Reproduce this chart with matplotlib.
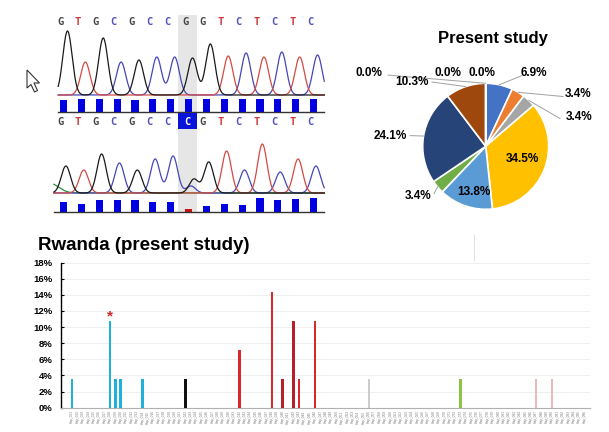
import matplotlib.pyplot as plt
import numpy as np
from matplotlib.patches import Polygon, Rectangle
from matplotlib.lines import Line2D

# ---- chromatogram data (reference on top, patient below) ----
bases_ref = list("GTGCGCCGGTCTCTC")
bases_pt = list("GTGCGCCCGTCTCTC")
peaks_ref = [64, 33, 57, 33, 35, 38, 38, 37, 51, 39, 42, 38, 43, 38, 40]
peaks_pt = [27, 23, 39, 30, 23, 34, 37, 7, 31, 42, 23, 49, 21, 34, 27]
extra_pt_base = ["G", "A"]
extra_pt_pos = [7.5, -0.6]
extra_pt_height = [14, 10]
qual_ref = [12.5, 13.5, 13, 13, 12.5, 13.5, 13.5, 13, 13, 13.5, 13.5, 13.5, 13.5, 13.5, 13.5]
qual_pt = [10, 8, 12, 12, 12, 10, 10, 3, 6, 8, 7, 14, 12, 13, 14]
snp_pos = 7

# ---- pie data ----
pie_labels = ["6.9%", "3.4%", "3.4%", "34.5%", "13.8%", "3.4%", "24.1%", "10.3%", "0.0%", "0.0%", "0.0%"]
pie_values = [6.9, 3.4, 3.4, 34.5, 13.8, 3.4, 24.1, 10.3, 0.0, 0.0, 0.0]
pie_colors = ["#4472c4", "#ed7d31", "#a5a5a5", "#ffc000", "#5b9bd5", "#70ad47",
              "#264478", "#9e480e", "#636363", "#997300", "#255e91"]

# ---- bar data (Rwanda) ----
n_cat = 96
cat_names = ["Hap_%03d" % (i + 1) for i in range(n_cat)]
bar_idx = [0, 7, 8, 9, 13, 21, 31, 37, 39, 41, 42, 45, 55, 72, 86, 89]
bar_vals = [3.6, 10.7, 3.6, 3.6, 3.6, 3.6, 7.1, 14.3, 3.6, 10.7, 3.6, 10.7, 3.6, 3.6, 3.6, 3.6]
bar_cols = ["#1fb1dc"] * 5 + ["#111111"] + ["#d8282c", "#d8282c", "#b5202a", "#b5202a", "#d8282c", "#d8282c"] \
           + ["#cccccc", "#8cc346", "#e9b9bd", "#e9b9bd"]

W, H = 609, 432
fig = plt.figure(figsize=(W / 100, H / 100), dpi=100)
plt.rcParams['font.family'] = ['Liberation Sans', 'DejaVu Sans']


def px_axes(x0, y0, x1, y1):
    return fig.add_axes([x0 / W, 1 - y1 / H, (x1 - x0) / W, (y1 - y0) / H])


chan_col = {"G": "#1a1a1a", "T": "#d44a44", "C": "#4646b8", "A": "#2b8a3e"}
letter_col = {"G": "#444444", "T": "#cc3a3a", "C": "#5050c0"}
sigma = 0.26


def draw_trace(ax, bases, peaks, offset, base_y, x_lo, extra=None):
    x = np.linspace(x_lo, 14.8, 800)
    for ch in ["A", "C", "T", "G"]:
        y = np.zeros_like(x)
        for i, (b, h) in enumerate(zip(bases, peaks)):
            if b == ch:
                y += h * np.exp(-0.5 * ((x - i - offset) / sigma) ** 2)
        if extra:
            for b, p, h in zip(*extra):
                if b == ch:
                    y += h * np.exp(-0.5 * ((x - p) / (sigma if b != "A" else 0.5)) ** 2)
        if y.max() > 0:
            ax.plot(x, base_y + y, color=chan_col[ch], lw=0.9)


def setup_chrom(ax):
    ax.set_xlim((50 - 60) / 17.86, (330 - 60) / 17.86)
    ax.set_ylim(0, 103)
    ax.axis("off")


# top panel
ax1 = px_axes(50, 12, 330, 115)
setup_chrom(ax1)
ax1.add_patch(Rectangle((snp_pos + 0.15 - 0.53, 2), 1.06, 98, color="#e6e6e6", lw=0))
draw_trace(ax1, bases_ref, peaks_ref, 0.42, 20, -0.1)
for i, b in enumerate(bases_ref):
    ax1.text(i, 93, b, color=letter_col[b], ha="center", va="center",
             fontsize=7.5, fontweight="bold", family="DejaVu Sans Mono")
ax1.bar(np.arange(15) + 0.2, qual_ref, bottom=3, width=0.4, color="#0000e0")
ax1.plot([-0.1, 14.8], [3, 3], color="#333333", lw=1)

# bottom panel
ax2 = px_axes(50, 112, 330, 215)
setup_chrom(ax2)
ax2.add_patch(Rectangle((snp_pos + 0.15 - 0.53, 2), 1.06, 84, color="#e6e6e6", lw=0))
ax2.add_patch(Rectangle((snp_pos + 0.15 - 0.53, 86), 1.06, 16, color="#0a14d8", lw=0))
draw_trace(ax2, bases_pt, peaks_pt, 0.33, 22, -0.34,
           extra=(extra_pt_base, extra_pt_pos, extra_pt_height))
for i, b in enumerate(bases_pt):
    c = "white" if i == snp_pos else letter_col[b]
    ax2.text(i + (0.15 if i == snp_pos else 0), 93, b, color=c, ha="center", va="center",
             fontsize=7.5, fontweight="bold", family="DejaVu Sans Mono")
qcols = ["#d01010" if q < 5 else "#0000e0" for q in qual_pt]
ax2.bar(np.arange(15) + 0.2, qual_pt, bottom=3, width=0.4, color=qcols)
ax2.plot([-0.34, 14.8], [3, 3], color="#333333", lw=1)

# mouse cursor
cur = [(27, 70), (27, 88), (31, 84.5), (34.5, 92), (37.5, 90.5), (34, 83), (39.5, 83)]
fig.add_artist(Polygon([(x / W, 1 - y / H) for x, y in cur], closed=True,
                       transform=fig.transFigure, facecolor="white", edgecolor="#333333", lw=0.8))

# ---- pie ----
cx, cy, r = 485.7, 146.3, 63
axp = px_axes(360, 20, 610, 225)
axp.pie(pie_values, colors=pie_colors, startangle=90, counterclock=False,
        wedgeprops=dict(edgecolor="white", linewidth=1.2))
axp.set_aspect("auto")
axp.set_xlim((360 - cx) / r, (610 - cx) / r)
axp.set_ylim((cy - 225) / r, (cy - 20) / r)
axp.text((493 - cx) / r, (cy - 38) / r, "Present study", ha="center", va="center",
         fontsize=12, fontweight="bold")

lab_pos = [(0.76, 1.17), (1.47, 0.83), (1.48, 0.46), (0.59, -0.2), (-0.19, -0.72),
           (-1.07, -0.79), (-1.52, 0.16), (-1.17, 1.02), (-1.85, 1.16), (-0.6, 1.16), (-0.06, 1.16)]
line_from = [(0.57, 1.12), (1.23, 0.79), (1.18, 0.44), None, None,
             (-0.82, -0.75), (-1.2, 0.17), (-0.85, 1.02), (-1.55, 1.13), None, None]
cum = np.cumsum([0] + pie_values)
tot = cum[-1]
for k, (lab, (lx, ly)) in enumerate(zip(pie_labels, lab_pos)):
    axp.text(lx, ly, lab, ha="center", va="center", fontsize=8.5, fontweight="bold")
    if line_from[k] is not None:
        ang = np.deg2rad(90 - 360 * (cum[k] + pie_values[k] / 2) / tot)
        axp.plot([line_from[k][0], np.cos(ang)], [line_from[k][1], np.sin(ang)],
                 color="#a0a0a0", lw=0.7)

# ---- bar chart ----
axb = px_axes(61, 262.7, 590, 407.6)
axb.bar(bar_idx, bar_vals, width=0.45, color=bar_cols, zorder=3)
axb.set_xlim(-2.07, 96)
axb.set_ylim(0, 18)
axb.set_yticks(np.arange(0, 19, 2))
axb.set_yticklabels(["%d%%" % v for v in range(0, 19, 2)], fontsize=6.8, fontweight="bold")
axb.tick_params(axis="y", direction="in", length=2.5, width=0.8, pad=6)
axb.set_xticks(range(n_cat))
axb.set_xticklabels(cat_names, rotation=90, fontsize=2.3, color="#777777")
axb.tick_params(axis="x", length=0, pad=2)
axb.grid(axis="y", color="#ececec", lw=0.6, zorder=0)
for s in ["top", "right"]:
    axb.spines[s].set_visible(False)
axb.spines["left"].set_linewidth(1)
axb.spines["bottom"].set_color("#b0b0b0")
axb.text(7, 11.3, "*", color="#d02828", ha="center", va="center", fontsize=11, fontweight="bold")

fig.text(38 / W, 1 - 245 / H, "Rwanda (present study)", fontsize=13.5, fontweight="bold",
         ha="left", va="center")
fig.add_artist(Line2D([474 / W, 474 / W], [1 - 235 / H, 1 - 260 / H], color="#e2e2e2", lw=0.8))

fig.savefig("out.png", dpi=100)
